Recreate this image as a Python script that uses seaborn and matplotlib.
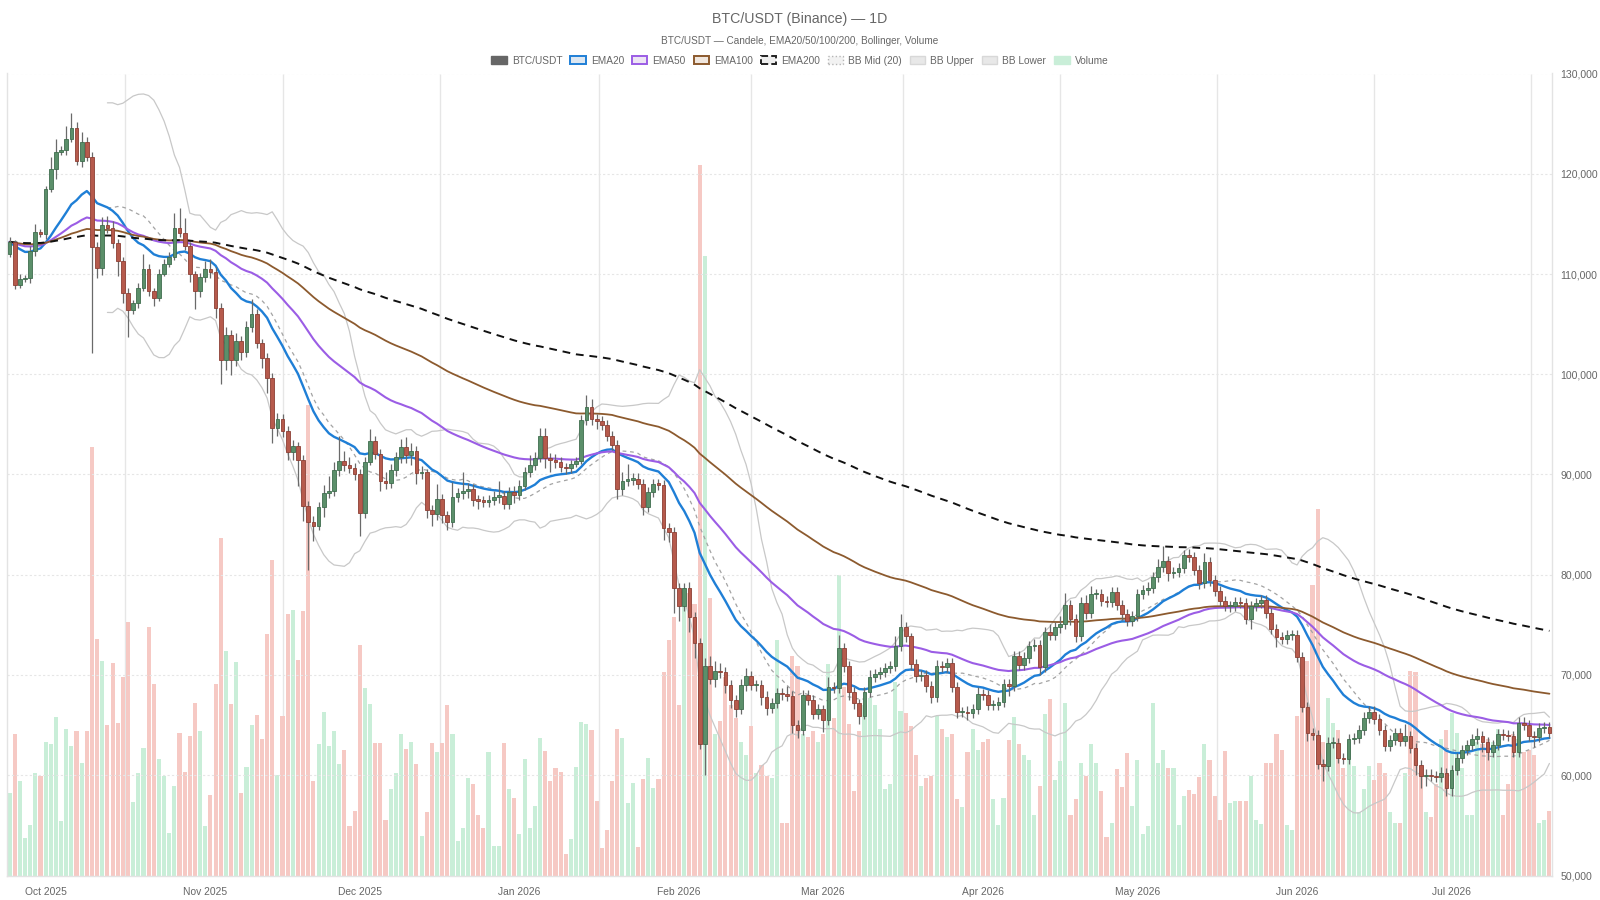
import numpy as np
import pandas as pd
import matplotlib
matplotlib.use("Agg")
import matplotlib.pyplot as plt
import matplotlib.dates as mdates
from matplotlib.patches import Patch
from matplotlib.ticker import FuncFormatter, MultipleLocator
import seaborn as sns

# ---------------- data (prices in thousands of USDT) ----------------
start_date = "2025-09-24"
first_open_k = 112.0
close_k = [
    113.2, 108.9, 109.5, 109.6, 112.3, 114.2, 114.0, 118.5, 120.5, 122.2,
    122.4, 123.5, 124.6, 121.3, 123.2, 121.7, 112.7, 110.6, 114.9, 114.6,
    113.1, 111.3, 108.1, 106.4, 107.1, 108.6, 110.5, 108.3, 107.6, 110.0,
    111.0, 111.7, 114.6, 114.1, 112.8, 110.0, 108.3, 109.7, 110.5, 110.2,
    106.6, 101.4, 103.9, 101.4, 103.3, 102.2, 104.7, 106.0, 103.1, 101.6,
    99.6, 94.6, 95.5, 94.3, 92.2, 92.8, 91.4, 86.9, 85.3, 84.9,
    86.8, 88.2, 88.4, 90.4, 91.3, 90.9, 90.6, 90.0, 86.2, 91.2,
    93.3, 92.0, 89.4, 89.2, 90.4, 91.7, 92.7, 91.9, 92.3, 90.1,
    90.2, 86.5, 86.1, 87.6, 86.0, 85.3, 87.8, 88.2, 88.4, 88.6,
    87.5, 87.4, 87.3, 87.5, 87.8, 87.9, 87.1, 88.3, 88.0, 88.9,
    90.2, 90.9, 91.6, 93.8, 91.6, 91.4, 91.2, 90.7, 90.6, 91.0,
    91.3, 95.4, 96.7, 95.5, 95.3, 94.9, 93.8, 92.9, 88.6, 89.4,
    89.5, 89.6, 89.1, 86.8, 88.3, 89.1, 89.0, 84.7, 84.3, 78.7,
    76.9, 78.7, 75.8, 73.2, 63.1, 70.9, 69.6, 70.4, 70.3, 69.0,
    67.5, 66.6, 69.0, 69.9, 69.0, 69.0, 67.8, 66.7, 67.2, 68.2,
    68.1, 67.9, 65.0, 64.5, 68.0, 67.5, 66.1, 66.6, 65.5, 68.8,
    68.7, 72.7, 70.9, 68.3, 67.2, 65.9, 68.3, 69.8, 70.1, 70.3,
    70.7, 70.9, 72.9, 74.8, 73.9, 71.1, 69.9, 70.0, 68.9, 67.8,
    70.9, 70.8, 71.2, 68.8, 66.3, 66.3, 66.2, 66.6, 68.1, 68.0,
    67.0, 67.0, 67.3, 69.1, 68.9, 71.9, 71.0, 71.7, 72.9, 73.0,
    70.8, 74.3, 74.0, 74.8, 75.1, 77.0, 75.6, 73.9, 77.2, 76.2,
    78.1, 78.1, 77.4, 77.3, 78.3, 77.0, 76.1, 75.4, 75.9, 78.1,
    78.5, 78.7, 79.8, 80.8, 81.4, 80.2, 80.3, 80.7, 82.0, 81.8,
    80.5, 79.2, 81.3, 79.5, 78.4, 77.4, 76.9, 76.9, 77.3, 77.2,
    75.6, 76.9, 77.2, 77.5, 76.2, 74.6, 73.8, 73.6, 74.0, 74.0,
    71.8, 66.8, 64.2, 64.0, 61.1, 60.9, 63.2, 63.2, 61.7, 61.6,
    63.6, 63.7, 64.5, 65.7, 66.3, 65.6, 64.5, 62.9, 63.5, 64.2,
    63.4, 63.9, 62.7, 61.0, 59.9, 60.0, 59.9, 59.8, 60.2, 58.7,
    60.5, 61.7, 62.5, 63.0, 63.6, 63.9, 63.3, 62.3, 63.0, 64.1,
    64.0, 63.9, 62.3, 65.2, 65.0, 63.9, 63.8, 64.7, 64.8, 64.2,
]
wick_up_k = [
    .5, .2, .5, .3, .5, .8, .3, .3, 1.2, 1.3,
    .4, 1.3, 1.5, .6, 1.0, .5, .5, .5, .8, .9,
    .7, .4, .4, .5, .3, .5, 1.5, .5, .3, .5,
    .5, .5, 1.5, 2.0, 1.5, .4, .3, .4, .8, 1.0,
    .5, .5, .8, .5, .8, .5, .6, 1.5, .5, .4,
    .5, .5, .6, .5, .5, .6, .4, .5, .5, .6,
    .5, .8, 1.5, .8, 2.5, 1.0, .8, .5, .5, .5,
    1.2, .5, .5, .8, .6, .5, .8, 1.0, .8, .5,
    .6, .3, .5, 1.5, .5, .4, 1.5, .5, 1.8, .6,
    .5, .5, .5, .5, .6, 1.5, .5, .5, .6, .6,
    .5, 1.0, .6, .8, .8, .5, .6, .5, .4, .4,
    .4, .5, 1.2, .8, .5, .5, .5, .5, .5, .8,
    1.5, .5, .5, .5, .5, .5, .5, .5, .5, .5,
    .5, .5, .6, .5, .5, .8, 1.0, 1.0, .8, .5,
    .5, .5, .6, .8, .5, .5, .5, .6, .5, .5,
    .5, .8, .5, .5, .5, .5, .5, .5, .4, 1.0,
    .5, 1.3, .5, .5, .5, .4, .5, .7, .5, .5,
    .5, .5, 1.0, 1.3, .5, .3, .5, .5, .5, .5,
    .6, .5, .5, .5, .5, .5, .6, .5, .7, .5,
    .5, .5, .5, .5, .5, .5, .5, .6, .5, .6,
    .5, .5, .8, .5, .8, 1.2, .5, .5, .6, .8,
    .8, .5, .5, .5, .5, .5, .5, .5, .5, .5,
    .5, .6, .5, .8, 1.5, .5, .5, .5, .5, .6,
    .5, .5, .9, .5, .5, .5, .5, .5, .5, .5,
    .5, .5, .5, .5, .5, .5, .5, .5, .5, .5,
    .5, .5, .5, .5, .5, .5, .6, .6, .5, .5,
    .5, .5, .5, .6, .6, .6, .5, .5, .5, .5,
    .5, 1.2, .5, .5, .5, .6, .6, .5, .6, .5,
    .5, .5, .5, .5, .5, .8, .5, .5, .5, .5,
    .5, .5, .5, .6, .6, .5, .5, .5, .5, .5,
]
wick_dn_k = [
    .3, .4, .3, .3, .5, .5, .3, .5, .3, 1.0,
    .3, .5, .3, .4, .6, .4, 10.6, 1.0, .7, .5,
    .5, 1.5, 1.0, 2.7, .4, .5, .3, .5, .8, .3,
    .2, .3, .3, .4, .4, .8, 1.8, .6, .5, .6,
    1.0, 2.4, 1.0, 1.5, .6, .8, .5, .5, .5, 1.0,
    1.5, 1.5, .8, .6, .8, .8, 2.5, 1.5, 4.8, 1.5,
    .4, 1.0, .5, .5, .5, .6, .5, .5, 2.3, .5,
    .3, .5, 1.0, .6, .5, .5, .6, .8, 1.0, 1.0,
    .5, .8, 1.2, .6, .8, .8, .5, .5, .6, .7,
    .6, .8, .5, .5, .5, .6, .5, .5, .8, .5,
    .4, .4, .5, .4, 1.0, 1.2, .6, .5, .6, .5,
    .3, .3, .5, .6, .8, .5, .5, .5, 1.0, .6,
    .5, .5, .5, .8, .5, .5, .5, 1.2, 1.0, 2.5,
    1.5, .5, 1.5, 1.5, .5, 3.1, .5, .8, .6, .8,
    .8, .8, .5, .6, .5, .6, .8, .7, .5, .5,
    .6, .5, .8, .8, .5, .5, .5, .5, 1.2, .5,
    .5, .5, .6, .8, .6, .8, .3, .5, .5, .5,
    .5, .5, .5, .5, .6, .6, .6, .5, .6, .6,
    .5, .5, .5, .5, .6, .5, .7, .5, .5, .5,
    .5, .5, .5, .5, 1.0, .5, .5, .5, .5, .5,
    .8, .5, .5, .5, .6, .5, .6, .6, .5, .6,
    .5, .5, .5, .5, .5, .5, .6, .5, .5, .5,
    .5, .5, .5, .5, .5, .8, .5, .5, .5, .5,
    .5, .6, .5, .6, .5, .5, .5, .6, .5, .5,
    .5, 1.0, .5, .5, .5, .5, 1.0, .5, .5, .5,
    .5, .5, .8, .5, .5, 1.5, .5, .5, .5, .5,
    .5, .5, .5, .5, .5, .5, .5, .5, .5, .5,
    .5, .5, .5, 1.0, 1.2, 1.0, .5, .5, .5, .8,
    .8, .5, .5, .5, .5, .5, 1.0, .8, .5, .5,
    .5, .5, .5, .5, .5, .5, 1.0, .5, .5, .5,
]
volume = [
    158, 271, 181, 71, 96, 196, 191, 256, 251, 304,
    104, 281, 248, 276, 216, 276, 821, 453, 411, 288,
    408, 293, 381, 486, 141, 196, 244, 476, 366, 223,
    191, 81, 171, 273, 198, 268, 331, 276, 94, 154,
    366, 646, 431, 329, 409, 158, 208, 289, 308, 261,
    463, 604, 193, 305, 501, 508, 413, 507, 901, 181,
    252, 314, 249, 276, 214, 241, 94, 123, 441, 359,
    329, 253, 253, 106, 166, 196, 271, 243, 256, 213,
    76, 121, 253, 236, 253, 326, 271, 66, 91, 186,
    176, 116, 91, 236, 56, 56, 253, 166, 148, 79,
    223, 91, 133, 264, 238, 181, 206, 199, 41, 69,
    208, 294, 291, 278, 143, 53, 88, 181, 281, 264,
    138, 178, 54, 184, 226, 168, 184, 389, 451, 496,
    326, 551, 541, 521, 1361, 1186, 531, 271, 296, 381,
    326, 301, 256, 231, 286, 196, 211, 191, 186, 451,
    101, 101, 421, 401, 271, 266, 276, 256, 271, 406,
    301, 576, 361, 291, 161, 276, 326, 341, 326, 281,
    166, 176, 371, 316, 311, 286, 231, 171, 186, 191,
    306, 281, 266, 271, 146, 131, 236, 281, 241, 256,
    261, 146, 96, 149, 259, 304, 251, 231, 221, 116,
    171, 309, 339, 183, 219, 331, 116, 146, 216, 191,
    251, 216, 161, 73, 101, 204, 169, 234, 133, 221,
    79, 95, 331, 216, 241, 206, 206, 96, 153, 163,
    156, 189, 251, 221, 153, 106, 238, 139, 143, 143,
    143, 191, 106, 98, 216, 216, 271, 241, 96, 88,
    306, 321, 411, 556, 703, 256, 341, 293, 279, 206,
    256, 209, 121, 166, 209, 183, 216, 196, 121, 101,
    101, 196, 391, 389, 201, 121, 113, 176, 261, 278,
    311, 273, 206, 116, 116, 256, 251, 261, 256, 281,
    116, 176, 271, 261, 236, 241, 231, 101, 106, 123,
]
ema_periods = [20, 50, 100, 200]
bb_period = 20

# ---------------- styling ----------------
sns.set_theme(style="white")
plt.rcParams["font.family"] = ["Liberation Sans", "DejaVu Sans"]

UP_BODY, UP_EDGE = "#5b8f6a", "#3f6d4e"
DN_BODY, DN_EDGE = "#b65a4c", "#8c3f34"
WICK = "#6a6a6a"
VOL_UP, VOL_DN = "#c9eed8", "#f6c9c4"
C_EMA = {20: "#1f7fd6", 50: "#9b5de5", 100: "#8c5a2e", 200: "#111111"}
TXT = "#666666"

# ---------------- derived series ----------------
dates = pd.date_range(start_date, periods=len(close_k), freq="D")
close = np.array(close_k) * 1000
open_ = np.concatenate([[first_open_k * 1000], close[:-1]])
high = np.maximum(open_, close) + np.array(wick_up_k) * 1000
low = np.minimum(open_, close) - np.array(wick_dn_k) * 1000
vol = np.array(volume, dtype=float)
up = close >= open_

df = pd.DataFrame({"date": dates, "close": close})
for n in ema_periods:
    df[f"ema{n}"] = df["close"].ewm(span=n, adjust=False).mean()
mid = df["close"].rolling(bb_period).mean()
sd = df["close"].rolling(bb_period).std(ddof=0)
df["bb_mid"], df["bb_up"], df["bb_lo"] = mid, mid + 2 * sd, mid - 2 * sd

# ---------------- figure ----------------
fig = plt.figure(figsize=(16, 9), dpi=100)
ax = fig.add_axes([7 / 1600, 1 - 875.5 / 900, (1552 - 7) / 1600, (875.5 - 73.5) / 900])
axv = ax.twinx()
ax.set_zorder(axv.get_zorder() + 1)
ax.patch.set_visible(False)

# vertical grid between month labels (drawn on the background axis)
month_starts = pd.date_range(dates[0].to_period("M").to_timestamp(),
                             dates[-1] + pd.offsets.MonthBegin(1), freq="MS")
ms_num = mdates.date2num(month_starts)
mids = (ms_num[:-1] + ms_num[1:]) / 2
axv.vlines(mids, 0, 1, transform=axv.get_xaxis_transform(), color="#e6e6e6", linewidth=1.0, zorder=0)

# volume
axv.bar(dates, vol, width=0.8, color=np.where(up, VOL_UP, VOL_DN), linewidth=0, zorder=1)
axv.set_ylim(0, vol.max() * 1.129)
axv.set_yticks([])
for s in axv.spines.values():
    s.set_visible(False)

# Bollinger + EMA lines
sns.lineplot(data=df, x="date", y="bb_up", ax=ax, color="#c8c8c8", linewidth=0.9, legend=False, zorder=2)
sns.lineplot(data=df, x="date", y="bb_lo", ax=ax, color="#c8c8c8", linewidth=0.9, legend=False, zorder=2)
sns.lineplot(data=df, x="date", y="bb_mid", ax=ax, color="#a3a3a3", linewidth=0.9, legend=False, zorder=2)
ax.lines[-1].set_dashes([3, 3])
for n, lw in zip(ema_periods, [1.7, 1.5, 1.3, 1.4]):
    sns.lineplot(data=df, x="date", y=f"ema{n}", ax=ax, color=C_EMA[n], linewidth=lw, legend=False, zorder=3)
    if n == 200:
        ax.lines[-1].set_dashes([4, 3])

# candles
ax.vlines(dates, low, high, color=WICK, linewidth=0.9, zorder=4)
body_lo = np.minimum(open_, close)
body_h = np.maximum(np.abs(close - open_), 120)
ax.bar(dates, body_h, bottom=body_lo, width=0.72,
       color=np.where(up, UP_BODY, DN_BODY), edgecolor=np.where(up, UP_EDGE, DN_EDGE),
       linewidth=0.6, zorder=5)

# axes formatting
ax.set_xlim(mdates.date2num(dates[0]) - 0.5, mdates.date2num(dates[-1]) + 0.5)
ax.set_ylim(50000, 130000)
ax.yaxis.set_major_locator(MultipleLocator(10000))
ax.yaxis.tick_right()
ax.yaxis.set_major_formatter(FuncFormatter(lambda v, p: f"{v:,.0f}"))
ax.xaxis.set_major_locator(mdates.MonthLocator())
ax.xaxis.set_major_formatter(mdates.DateFormatter("%b %Y"))
ax.tick_params(axis="y", length=0, pad=6, labelsize=7.6, labelcolor=TXT)
ax.tick_params(axis="x", length=0, pad=8.5, labelsize=7.4, labelcolor=TXT)
ax.grid(axis="y", color="#e6e6e6", linewidth=0.8, linestyle=(0, (2, 2)))
ax.grid(axis="x", which="major", visible=False)
ax.set_xlabel("")
ax.set_ylabel("")
for side in ["left", "right", "bottom"]:
    ax.spines[side].set_color("#e3e3e3")
    ax.spines[side].set_linewidth(1.0)
ax.spines["top"].set_visible(False)

# titles
fig.text(0.5, 1 - 19.5 / 900, "BTC/USDT (Binance) — 1D", ha="center", va="center", fontsize=10.2, color=TXT)
fig.text(0.5, 1 - 41 / 900, "BTC/USDT — Candele, EMA20/50/100/200, Bollinger, Volume",
         ha="center", va="center", fontsize=7.2, color=TXT)

# legend
handles = [
    Patch(facecolor="#666666", edgecolor="#666666", label="BTC/USDT"),
    Patch(facecolor="#dde7f1", edgecolor=C_EMA[20], linewidth=1.4, label="EMA20"),
    Patch(facecolor="#ede5f4", edgecolor=C_EMA[50], linewidth=1.4, label="EMA50"),
    Patch(facecolor="#f1e7de", edgecolor=C_EMA[100], linewidth=1.4, label="EMA100"),
    Patch(facecolor="#eeeeee", edgecolor="#222222", linewidth=1.4, linestyle="--", label="EMA200"),
    Patch(facecolor="#f2f2f2", edgecolor="#b5b5b5", linewidth=1.0, linestyle=":", label="BB Mid (20)"),
    Patch(facecolor="#e8e8e8", edgecolor="#d8d8d8", linewidth=1.0, label="BB Upper"),
    Patch(facecolor="#e8e8e8", edgecolor="#d8d8d8", linewidth=1.0, label="BB Lower"),
    Patch(facecolor=VOL_UP, edgecolor=VOL_UP, label="Volume"),
]
leg = fig.legend(handles=handles, loc="center", bbox_to_anchor=(0.5, 1 - 60.5 / 900), ncol=9, frameon=False,
                 fontsize=7.3, handlelength=1.5, handleheight=0.95, handletextpad=0.5, columnspacing=0.8)
for t in leg.get_texts():
    t.set_color(TXT)

fig.savefig("out.png", dpi=100, facecolor="white")
